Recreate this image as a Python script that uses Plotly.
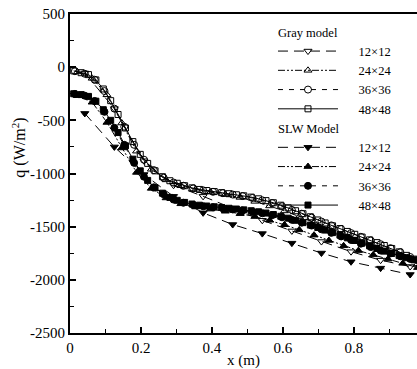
import plotly.graph_objects as go

# ---------------- data ----------------
x48 = [0.0104, 0.0313, 0.0521, 0.0729, 0.0938, 0.1146, 0.1354, 0.1563, 0.1771, 0.1979,
       0.2188, 0.2396, 0.2604, 0.2813, 0.3021, 0.3229, 0.3438, 0.3646, 0.3854, 0.4063,
       0.4271, 0.4479, 0.4688, 0.4896, 0.5104, 0.5313, 0.5521, 0.5729, 0.5938, 0.6146,
       0.6354, 0.6563, 0.6771, 0.6979, 0.7188, 0.7396, 0.7604, 0.7813, 0.8021, 0.8229,
       0.8438, 0.8646, 0.8854, 0.9063, 0.9271, 0.9479, 0.9688, 0.9896]
x36 = [0.0139, 0.0417, 0.0694, 0.0972, 0.125, 0.1528, 0.1806, 0.2083, 0.2361, 0.2639,
       0.2917, 0.3194, 0.3472, 0.375, 0.4028, 0.4306, 0.4583, 0.4861, 0.5139, 0.5417,
       0.5694, 0.5972, 0.625, 0.6528, 0.6806, 0.7083, 0.7361, 0.7639, 0.7917, 0.8194,
       0.8472, 0.875, 0.9028, 0.9306, 0.9583, 0.9861]
x24 = [0.0208, 0.0625, 0.1042, 0.1458, 0.1875, 0.2292, 0.2708, 0.3125, 0.3542, 0.3958,
       0.4375, 0.4792, 0.5208, 0.5625, 0.6042, 0.6458, 0.6875, 0.7292, 0.7708, 0.8125,
       0.8542, 0.8958, 0.9375, 0.9792]
x12 = [0.0417, 0.125, 0.2083, 0.2917, 0.375, 0.4583, 0.5417, 0.625, 0.7083, 0.7917,
       0.875, 0.9583]

gray48 = [-35, -52, -70, -120, -205, -315, -445, -572, -700, -820,
          -905, -975, -1030, -1068, -1092, -1115, -1135, -1150, -1160, -1170,
          -1180, -1190, -1200, -1210, -1222, -1238, -1255, -1275, -1298, -1323,
          -1350, -1378, -1407, -1437, -1465, -1492, -1518, -1545, -1572, -1598,
          -1624, -1650, -1677, -1705, -1737, -1770, -1805, -1838]
gray36 = [-38, -62, -118, -225, -390, -560, -730, -870, -968, -1040,
          -1085, -1115, -1140, -1158, -1172, -1185, -1198, -1212, -1230, -1252,
          -1278, -1308, -1342, -1378, -1415, -1452, -1488, -1522, -1560, -1595,
          -1630, -1665, -1702, -1740, -1785, -1830]
gray24 = [-45, -105, -260, -525, -790, -960, -1060, -1115, -1150, -1175,
          -1198, -1225, -1262, -1305, -1352, -1405, -1460, -1515, -1570, -1625,
          -1680, -1735, -1790, -1850]
gray12 = [-55, -390, -880, -1110, -1215, -1330, -1440, -1540, -1640, -1735,
          -1815, -1875]

slw48 = [-250, -258, -275, -320, -400, -500, -615, -740, -865, -975,
         -1065, -1135, -1185, -1225, -1252, -1272, -1287, -1298, -1306, -1313,
         -1320, -1327, -1334, -1342, -1350, -1360, -1372, -1386, -1402, -1420,
         -1440, -1462, -1485, -1508, -1532, -1556, -1580, -1605, -1630, -1655,
         -1680, -1705, -1730, -1752, -1772, -1792, -1812, -1832]
slw36 = [-252, -268, -318, -420, -570, -730, -900, -1030, -1130, -1195,
         -1245, -1275, -1295, -1308, -1318, -1328, -1338, -1348, -1360, -1374,
         -1392, -1412, -1436, -1462, -1490, -1525, -1558, -1592, -1625, -1660,
         -1692, -1725, -1752, -1778, -1803, -1830]
slw24 = [-268, -330, -520, -760, -990, -1140, -1230, -1285, -1315, -1335,
         -1355, -1378, -1405, -1440, -1482, -1530, -1580, -1630, -1680, -1725,
         -1765, -1805, -1845, -1885]
slw12 = [-435, -750, -1010, -1215, -1370, -1480, -1565, -1655, -1748, -1830,
         -1890, -1950]

grid_labels = ["12×12", "24×24", "36×36", "48×48"]
x_ticks = [0, 0.2, 0.4, 0.6, 0.8]
x_ticklabels = ["0", "0.2", "0.4", "0.6", "0.8"]
y_ticks = [500, 0, -500, -1000, -1500, -2000, -2500]
y_ticklabels = ["500", "0", "-500", "-1000", "-1500", "-2000", "-2500"]

# ---------------- styles ----------------
FONT = "Liberation Serif"
dashes = ["10px,6px", "7px,2px,2px,2px,2px,2px", "5px,6px", "solid"]
gray_sym = ["triangle-down-open", "triangle-up-open", "circle-open", "square-open"]
slw_sym = ["triangle-down", "triangle-up", "circle", "square"]
msize = [7, 7, 7, 6]
PAD = "\u00a0\u00a0\u00a0\u00a0\u00a0"
LFS = 12.5

fig = go.Figure()

gray_x = [x12, x24, x36, x48]
gray_y = [gray12, gray24, gray36, gray48]
slw_y = [slw12, slw24, slw36, slw48]

for i in range(4):
    kw = dict(legendgrouptitle=dict(text="Gray model")) if i == 0 else {}
    fig.add_trace(go.Scatter(
        x=gray_x[i], y=gray_y[i], mode="lines+markers", name=PAD + grid_labels[i],
        legendgroup="gray",
        line=dict(color="black", width=1, dash=dashes[i]),
        marker=dict(symbol=gray_sym[i], size=msize[i], color="black",
                    line=dict(color="black", width=1)),
        **kw,
    ))
for i in range(4):
    kw = dict(legendgrouptitle=dict(text="SLW Model")) if i == 0 else {}
    fig.add_trace(go.Scatter(
        x=gray_x[i], y=slw_y[i], mode="lines+markers", name=PAD + grid_labels[i],
        legendgroup="slw",
        line=dict(color="black", width=1, dash=dashes[i]),
        marker=dict(symbol=slw_sym[i], size=msize[i], color="black",
                    line=dict(color="black", width=1)),
        **kw,
    ))

fig.add_annotation(text="q (W/m<sup>2</sup>)", xref="paper", yref="paper",
                   x=-0.145, y=0.58, xanchor="center", yanchor="middle",
                   textangle=-90, showarrow=False, font=dict(size=16, family=FONT))

fig.update_layout(
    width=417, height=369,
    margin=dict(l=70, r=0, t=14, b=32),
    plot_bgcolor="white", paper_bgcolor="white",
    font=dict(family=FONT, size=15, color="black"),
    showlegend=True,
    legend=dict(x=0.585, y=0.99, xanchor="left", yanchor="top",
                bgcolor="rgba(0,0,0,0)", traceorder="grouped",
                tracegroupgap=0, itemwidth=60, font=dict(size=LFS, family=FONT),
                grouptitlefont=dict(size=LFS, family=FONT)),
    xaxis=dict(range=[0, 0.9775], showgrid=False, zeroline=False,
               showline=True, linecolor="black", linewidth=2, mirror=True,
               ticks="inside", ticklen=6, tickwidth=1.5, tickcolor="black",
               tickvals=x_ticks, ticktext=x_ticklabels,
               minor=dict(ticks="inside", ticklen=4, tickwidth=1.2, dtick=0.1,
                          tickcolor="black"),
               title=dict(text="x (m)", standoff=2, font=dict(size=15)),
               tickfont=dict(size=15)),
    yaxis=dict(range=[-2500, 500], showgrid=False, zeroline=False,
               showline=True, linecolor="black", linewidth=2,
               ticks="inside", ticklen=6, tickwidth=1.5, tickcolor="black",
               tickvals=y_ticks, ticktext=y_ticklabels,
               minor=dict(ticks="inside", ticklen=4, tickwidth=1.2, dtick=250,
                          tickcolor="black"),
               tickfont=dict(size=15)),
)

fig.write_html("out.html")
